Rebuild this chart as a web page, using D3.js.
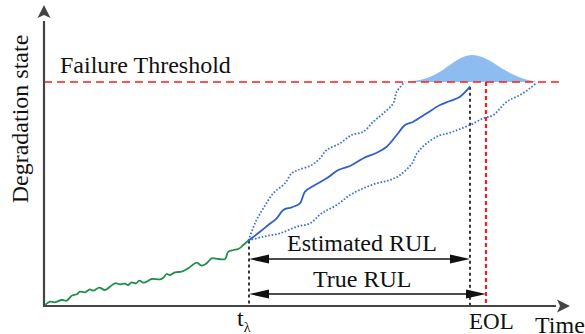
<!DOCTYPE html>
<html>
<head>
<meta charset="utf-8">
<script src="https://cdn.jsdelivr.net/npm/d3@7"></script>
<style>
  html, body { margin: 0; padding: 0; background: #fff; }
  svg { display: block; }
</style>
</head>
<body>
<svg id="chart" width="585" height="334"></svg>
<script>
// ---- data (time, degradation state) ----
const historyT = [0,1,6,11,17.7,22.7,27.7,32.7,36,41,46,49.3,55.3,61,66,71,76,81,84.3,87.7,92,95.3,100,104.3,107.7,116,119.3,122.7,126,131,137.7,144.3,152.7,157.7,162.7,167.7,174.3,181,184.3,189.3,194.3,199.3,204.5];
const historyS = [0,1,4.3,3.7,6,5.3,10.3,11.7,14.3,13.7,16.7,15.3,18.3,16,19.3,22.7,21.7,22.3,21,23.7,22.7,25.3,23.3,25.3,27,26.7,28.3,32,31,33.7,34.3,37.7,43.3,40.3,42.7,47.7,47,47,54.3,56,57,61,65.5];

const meanT = [204.5,216,224.3,232.7,239.3,247.7,256,261,271,282.7,294.3,306,319.3,332.7,342.7,352.7,361,369.3,382.7,396,406,416,426];
const meanS = [65.5,74.3,81,87.7,96,98.7,102.7,114.3,121,127.7,136,140,147.7,153.3,159.3,171,181,184.3,192.7,201,205,209.3,219.3];

const upperT = [204.5,211,219.3,229.3,241,247.7,254.3,267.7,276,282.7,296,307.7,319.3,329.3,339.3,349.3,352.7,361];
const upperS = [65.5,82.7,97.7,112.7,122.7,132.7,136,141,147.7,156,162.7,171,174.3,184.3,192.7,202.7,214.3,224.3];

const lowerT = [204.5,219.3,236,252.7,266,277.7,292.7,306,319.3,332.7,346,356,367.7,373,382.7,394.3,406,416,426,439.3,449.3,462.7,476,486,492.7];
const lowerS = [65.5,69.3,72.7,79.3,82.7,92.7,101,111,117.7,122.7,126,131,142,152.7,162.7,170,173.3,177,181,187.7,191,204.3,211,217.7,223.5];

const pdfT = [361,368,378,388,398,408,418,428,438,448,458,468,478,488,493];
const pdfH = [0,0.8,2.5,6,11.5,18.5,24.5,27,25,20,13.5,8,3.8,1.2,0];

const threshold = 224;
const tLambda = 205;
const estEOL = 426;
const trueEOL = 442;

const labels = {
  threshold: "Failure Threshold",
  est: "Estimated RUL",
  trueRul: "True RUL",
  xAxis: "Time",
  yAxis: "Degradation state",
  eol: "EOL",
  t: "t",
  lambda: "λ"
};

const FONT = "'Liberation Serif', 'Times New Roman', Times, 'DejaVu Serif', serif";

// ---- scales ----
const x = d3.scaleLinear().domain([0, 526]).range([44, 570]);
const y = d3.scaleLinear().domain([0, 301]).range([306, 5]);

const svg = d3.select("#chart");

const zip = (a, b) => a.map((v, i) => [v, b[i]]);
const line = d3.line().x(d => x(d[0])).y(d => y(d[1])).curve(d3.curveCatmullRom.alpha(0.5));

// PDF fill
const area = d3.area()
  .x(d => x(d[0]))
  .y0(y(threshold))
  .y1(d => y(threshold + d[1]))
  .curve(d3.curveMonotoneX);
svg.append("path").datum(zip(pdfT, pdfH))
  .attr("d", area).attr("fill", "#8cbcf0").attr("stroke", "none");

// threshold line
svg.append("line")
  .attr("x1", x(0)).attr("x2", x(518))
  .attr("y1", y(threshold)).attr("y2", y(threshold))
  .attr("stroke", "#ff1a1a").attr("stroke-width", 1.6).attr("stroke-dasharray", "8,5");

// vertical dashed markers
svg.append("line")
  .attr("x1", x(tLambda)).attr("x2", x(tLambda))
  .attr("y1", y(meanS[0])).attr("y2", y(0))
  .attr("stroke", "#222").attr("stroke-width", 1.8).attr("stroke-dasharray", "3,3");
svg.append("line")
  .attr("x1", x(estEOL)).attr("x2", x(estEOL))
  .attr("y1", y(meanS[meanS.length - 1])).attr("y2", y(0))
  .attr("stroke", "#222").attr("stroke-width", 1.8).attr("stroke-dasharray", "3,3");
svg.append("line")
  .attr("x1", x(trueEOL)).attr("x2", x(trueEOL))
  .attr("y1", y(threshold)).attr("y2", y(0))
  .attr("stroke", "#ff1a1a").attr("stroke-width", 2.2).attr("stroke-dasharray", "4,3");

// curves
svg.append("path").datum(zip(historyT, historyS))
  .attr("d", line).attr("fill", "none").attr("stroke", "#1f8f48").attr("stroke-width", 1.8);
svg.append("path").datum(zip(upperT, upperS))
  .attr("d", line).attr("fill", "none").attr("stroke", "#3a6fd8").attr("stroke-width", 1.8).attr("stroke-dasharray", "1.6,1.8");
svg.append("path").datum(zip(lowerT, lowerS))
  .attr("d", line).attr("fill", "none").attr("stroke", "#3a6fd8").attr("stroke-width", 1.8).attr("stroke-dasharray", "1.6,1.8");
svg.append("path").datum(zip(meanT, meanS))
  .attr("d", line).attr("fill", "none").attr("stroke", "#2f5fcc").attr("stroke-width", 1.8);

// axes with arrows
const axisColor = "#444";
svg.append("line").attr("x1", x(0)).attr("x2", x(0)).attr("y1", y(0) + 1).attr("y2", y(285))
  .attr("stroke", axisColor).attr("stroke-width", 2.2);
svg.append("line").attr("x1", x(0) - 1).attr("x2", x(512)).attr("y1", y(0)).attr("y2", y(0))
  .attr("stroke", axisColor).attr("stroke-width", 2.2);
svg.append("path")
  .attr("d", `M${x(0)},${y(301)} L${x(0) + 6.5},${y(288)} L${x(0)},${y(291)} L${x(0) - 6.5},${y(288)} Z`)
  .attr("fill", axisColor);
svg.append("path")
  .attr("d", `M${x(526)},${y(0)} L${x(513)},${y(0) + 6.5} L${x(516)},${y(0)} L${x(513)},${y(0) - 6.5} Z`)
  .attr("fill", axisColor);

// RUL double arrows
function rulArrow(t0, t1, sy) {
  const x0 = x(t0), x1 = x(t1), yy = y(sy);
  svg.append("line").attr("x1", x0 + 4).attr("x2", x1 - 4).attr("y1", yy).attr("y2", yy)
    .attr("stroke", "#111").attr("stroke-width", 1.5);
  svg.append("path").attr("d", `M${x0},${yy} L${x0 + 20},${yy - 4.5} L${x0 + 20},${yy + 4.5} Z`).attr("fill", "#111");
  svg.append("path").attr("d", `M${x1},${yy} L${x1 - 20},${yy - 4.5} L${x1 - 20},${yy + 4.5} Z`).attr("fill", "#111");
}
rulArrow(tLambda, estEOL, 47);
rulArrow(tLambda, trueEOL, 12);

// texts
function txt(xx, yy, size, s) {
  return svg.append("text").attr("x", xx).attr("y", yy)
    .attr("font-family", FONT).attr("font-size", size).attr("fill", "#111").text(s);
}
txt(x(16), y(233), 24, labels.threshold);
txt(x(243), y(55.5), 24, labels.est);
txt(x(269), y(19), 24, labels.trueRul);
txt(x(425), 329, 23, labels.eol);
txt(x(491), 333, 24, labels.xAxis);
const tl = svg.append("text").attr("x", x(193)).attr("y", 326)
  .attr("font-family", FONT).attr("font-size", 24).attr("fill", "#111");
tl.append("tspan").text(labels.t);
tl.append("tspan").attr("font-size", 14).attr("dy", 6).text(labels.lambda);
svg.append("text").attr("transform", "translate(28,119) rotate(-90)")
  .attr("font-family", FONT).attr("fill", "#111")
  .attr("text-anchor", "middle").attr("font-size", 24).text(labels.yAxis);
</script>
</body>
</html>
